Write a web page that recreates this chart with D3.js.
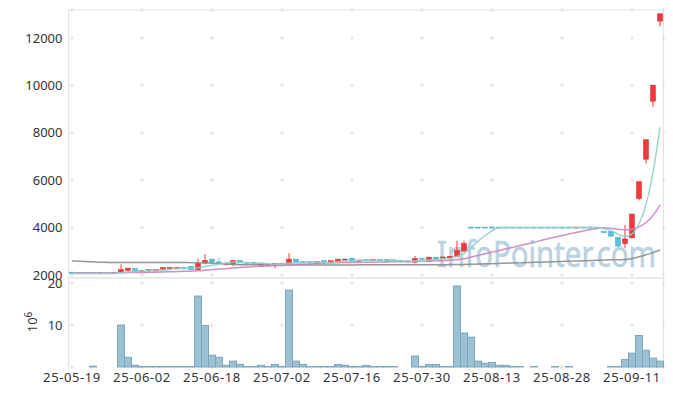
<!DOCTYPE html>
<html>
<head>
<meta charset="utf-8">
<script src="https://cdn.jsdelivr.net/npm/d3@7"></script>
<style>
  body { margin: 0; background: #fff; }
  svg { display: block; font-family: "Noto Sans", "Open Sans", sans-serif; }
</style>
</head>
<body>
<div class="chart"></div>
<script>
var dates = [
  "25-05-19","25-05-20","25-05-21","25-05-22","25-05-23","25-05-26","25-05-27","25-05-28","25-05-29","25-05-30",
  "25-06-02","25-06-04","25-06-05","25-06-09","25-06-10","25-06-11","25-06-12","25-06-13","25-06-16","25-06-17",
  "25-06-18","25-06-19","25-06-20","25-06-23","25-06-24","25-06-25","25-06-26","25-06-27","25-06-30","25-07-01",
  "25-07-02","25-07-03","25-07-04","25-07-07","25-07-08","25-07-09","25-07-10","25-07-11","25-07-14","25-07-15",
  "25-07-16","25-07-17","25-07-18","25-07-21","25-07-22","25-07-23","25-07-24","25-07-25","25-07-28","25-07-29",
  "25-07-30","25-07-31","25-08-01","25-08-04","25-08-05","25-08-06","25-08-07","25-08-08","25-08-11","25-08-12",
  "25-08-13","25-08-14","25-08-18","25-08-19","25-08-20","25-08-21","25-08-22","25-08-25","25-08-26","25-08-27",
  "25-08-28","25-08-29","25-09-01","25-09-02","25-09-03","25-09-04","25-09-05","25-09-08","25-09-09","25-09-10",
  "25-09-11","25-09-12","25-09-15","25-09-16","25-09-17"
];

var opens = [
  2100,2040,2045,2080,2060,2075,2040,2110,2180,2250,
  2140,2150,2150,2225,2260,2280,2290,2340,2200,2480,
  2650,2530,2460,2420,2590,2520,2510,2390,2420,2380,
  2410,2465,2650,2540,2540,2460,2580,2500,2540,2640,
  2690,2560,2640,2600,2630,2560,2620,2580,2530,2520,
  2690,2560,2730,2680,2690,2750,2990,4000,4000,4000,
  4000,4000,4000,4000,4000,4000,4000,4000,4000,4000,
  4000,4000,3995,4000,4000,4000,3810,3810,3560,3300,
  3550,5200,6865,9310,12690
];
var highs = [
  2110,2080,2080,2085,2075,2080,2095,2450,2290,2260,
  2180,2220,2220,2300,2310,2310,2320,2350,2680,2880,
  2660,2720,2490,2640,2600,2530,2520,2490,2450,2470,
  2470,2920,2660,2590,2550,2560,2590,2590,2660,2680,
  2700,2620,2650,2640,2640,2630,2630,2590,2580,2800,
  2700,2740,2740,2750,2780,3440,3440,4025,4000,4000,
  4000,4000,4000,4000,4000,4000,4000,4000,4000,4000,
  4000,4000,4000,4000,4000,4000,3830,3820,3600,4110,
  4570,5915,7690,9990,13000
];
var lows = [
  2030,2035,2040,2055,2055,2035,2035,2100,2170,2110,
  2130,2140,2145,2220,2250,2270,2270,2190,2190,2470,
  2510,2490,2400,2380,2510,2460,2430,2380,2410,2280,
  2360,2460,2500,2490,2470,2450,2530,2490,2530,2620,
  2550,2550,2610,2590,2580,2550,2550,2530,2520,2510,
  2640,2550,2650,2670,2680,2740,2980,3975,4000,4000,
  4000,4000,4000,4000,4000,4000,4000,4000,4000,4000,
  4000,4000,3995,4000,4000,4000,3770,3610,3190,3130,
  3540,5150,6710,9080,12480
];
var closes = [
  2040,2070,2075,2060,2070,2040,2090,2210,2270,2120,
  2170,2210,2210,2295,2290,2290,2280,2200,2460,2590,
  2520,2500,2480,2590,2520,2470,2440,2480,2440,2460,
  2460,2650,2510,2500,2480,2540,2540,2580,2650,2650,
  2560,2610,2620,2630,2590,2620,2560,2540,2570,2670,
  2650,2730,2660,2740,2770,3020,3310,4000,4000,4000,
  4000,4000,4000,4000,4000,4000,4000,4000,4000,4000,
  4000,4000,4000,4000,4000,4000,3790,3620,3200,3500,
  4550,5915,7690,9990,13000
];
// volume, millions of shares
var volumes = [
  0,0,0,0.2,0,0,0,10.0,2.3,0.4,
  0.1,0.1,0.1,0.1,0.1,0.1,0.1,0.1,16.9,9.9,
  2.8,2.3,0.4,1.4,0.6,0.1,0.1,0.4,0.1,0.6,
  0.1,18.3,1.4,0.6,0.1,0.1,0.1,0.1,0.6,0.4,
  0.1,0.1,0.4,0.1,0.1,0.1,0.1,0,0,2.6,
  0.1,0.6,0.6,0.1,0.1,19.3,8.1,7.1,1.4,0.9,
  1.1,0.4,0.4,0.1,0.1,0,0.1,0,0,0.1,
  0,0.1,0,0,0,0,0,0.1,0.1,1.8,
  3.3,7.5,4.0,2.1,1.4
];
// moving averages
var ma5 = [
  2070,2065,2065,2062,2063,2063,2067,2094,2136,2146,
  2172,2196,2196,2201,2235,2259,2273,2271,2304,2364,
  2410,2454,2510,2536,2522,2512,2500,2500,2470,2458,
  2456,2498,2504,2516,2520,2536,2514,2528,2558,2592,
  2596,2610,2618,2614,2602,2614,2604,2588,2576,2592,
  2598,2632,2656,2690,2710,2784,2900,3168,3420,3666,
  3862,4000,4000,4000,4000,4000,4000,4000,4000,4000,
  4000,4000,4000,4000,4000,4000,3958,3882,3722,3622,
  3732,4157,4971,6329,8227
];
var ma20 = [
  2097,2096,2094,2092,2091,2088,2087,2093,2101,2102,
  2106,2111,2117,2127,2136,2146,2155,2160,2178,2202,
  2226,2248,2268,2294,2317,2338,2356,2369,2378,2395,
  2409,2431,2446,2457,2466,2479,2492,2511,2520,2523,
  2525,2531,2538,2540,2543,2551,2557,2560,2566,2577,
  2586,2590,2598,2610,2624,2648,2687,2758,2825,2893,
  2965,3034,3103,3172,3242,3311,3383,3456,3528,3594,
  3662,3725,3792,3855,3917,3966,3990,3971,3931,3906,
  3933,4029,4213,4513,4962
];
var ma120 = [
  2590,2580,2570,2555,2540,2532,2527,2525,2525,2525,
  2525,2524,2524,2523,2523,2522,2522,2521,2518,2512,
  2500,2482,2462,2447,2437,2431,2428,2427,2426,2425,
  2425,2425,2425,2424,2424,2424,2424,2425,2425,2426,
  2426,2427,2427,2428,2428,2429,2429,2430,2430,2431,
  2432,2433,2434,2436,2438,2441,2446,2454,2462,2470,
  2479,2488,2497,2506,2515,2524,2533,2542,2551,2560,
  2570,2580,2590,2600,2610,2620,2630,2638,2646,2656,
  2700,2770,2850,2945,3055
];

var priceTicks = [2000, 4000, 6000, 8000, 10000, 12000];
var volumeTicks = [10, 20];
var dateTicks = ["25-05-19","25-06-02","25-06-18","25-07-02","25-07-16","25-07-30","25-08-13","25-08-28","25-09-11"];

var width = 673, height = 396;
var left = 68.5, right = 663.5;
var priceTop = 10, priceBottom = 278;
var volTop = 278, volBottom = 367;

var upColor = "#f0383d", upStroke = "#d8262c";
var downColor = "#5bbfd9", downStroke = "#45a9c6";
var gridColor = "#dedede";

var svg = d3.select("div.chart")
  .append("svg")
  .attr("width", width)
  .attr("height", height);

var xScale = d3.scaleBand()
  .domain(dates)
  .range([left, right])
  .padding(0);

var bw = xScale.bandwidth();
var cx = d => xScale(d) + bw / 2;

var yPrice = d3.scaleLinear()
  .domain([1873, 13180])
  .range([priceBottom, priceTop]);

var yVol = d3.scaleLinear()
  .domain([0, 21.2])
  .range([volBottom, volTop]);

// frame
svg.append("path")
  .attr("d", `M${left},${volBottom}V${priceTop}H${right}V${volBottom}`)
  .attr("fill", "none")
  .attr("stroke", "#e3e3e3")
  .attr("stroke-width", 1.2);
svg.append("line")
  .attr("x1", left).attr("x2", right)
  .attr("y1", priceBottom).attr("y2", priceBottom)
  .attr("stroke", "#e3e3e3")
  .attr("stroke-width", 1.5);

// little crosses where ticks meet
var crossX = dateTicks.map(cx).concat([right]);
var crossY = priceTicks.map(yPrice).concat(volumeTicks.map(yVol)).concat([priceTop, volBottom]);
var crosses = [];
crossX.forEach(x => crossY.forEach(y => crosses.push([x, y])));
svg.append("g")
  .attr("class", "crosses")
  .selectAll("path")
  .data(crosses)
  .enter()
  .append("path")
  .attr("d", d => `M${d[0] - 2},${d[1]}H${d[0] + 2}M${d[0]},${d[1] - 2}V${d[1] + 2}`)
  .attr("stroke", gridColor)
  .attr("stroke-width", 1);

// watermark
svg.append("text")
  .attr("x", 437)
  .attr("y", 267)
  .attr("font-size", 36)
  .attr("textLength", 219)
  .attr("lengthAdjust", "spacingAndGlyphs")
  .attr("fill", "#bcd2e0")
  .attr("stroke", "#bcd2e0")
  .attr("stroke-width", 0.6)
  .text("InfoPointer.com");

// axes
var yAxis = d3.axisLeft(yPrice).tickValues(priceTicks).tickFormat(d3.format("d")).tickSize(0).tickPadding(6);
svg.append("g")
  .attr("class", "y axis")
  .attr("transform", `translate(${left},0)`)
  .call(yAxis);

var volAxis = d3.axisLeft(yVol).tickValues(volumeTicks).tickFormat(d3.format("d")).tickSize(0).tickPadding(6);
svg.append("g")
  .attr("class", "v axis")
  .attr("transform", `translate(${left},0)`)
  .call(volAxis);

var xAxis = d3.axisBottom(xScale).tickValues(dateTicks).tickSize(0).tickPadding(6);
svg.append("g")
  .attr("class", "x axis")
  .attr("transform", `translate(0,${volBottom})`)
  .call(xAxis);

svg.selectAll(".axis .domain").remove();
svg.selectAll(".axis text")
  .attr("font-size", 13)
  .attr("fill", "#333")
  .attr("font-family", "Noto Sans, sans-serif");
svg.selectAll(".x.axis text").attr("letter-spacing", 0.6);

// 10^6 unit label
var unit = svg.append("text")
  .attr("transform", "translate(37,322) rotate(-90)")
  .attr("text-anchor", "middle")
  .attr("font-size", 13)
  .attr("fill", "#333");
unit.append("tspan").text("10");
unit.append("tspan").attr("dy", -5).attr("font-size", 10).text("6");

// volume bars
svg.append("g")
  .attr("class", "bars")
  .selectAll("rect")
  .data(dates)
  .enter()
  .append("rect")
  .attr("x", d => xScale(d))
  .attr("width", bw)
  .attr("y", (d, i) => yVol(volumes[i]))
  .attr("height", (d, i) => yVol(0) - yVol(volumes[i]))
  .attr("fill", "#9cc1d2")
  .attr("stroke", "#7aa6bc")
  .attr("stroke-width", 1)
  .attr("display", (d, i) => volumes[i] > 0 ? null : "none");

// candles
var candles = svg.append("g")
  .attr("class", "candles")
  .selectAll("g")
  .data(dates)
  .enter()
  .append("g");

var isUp = i => closes[i] > opens[i];

candles.append("line")
  .attr("x1", d => cx(d)).attr("x2", d => cx(d))
  .attr("y1", (d, i) => yPrice(highs[i]))
  .attr("y2", (d, i) => yPrice(lows[i]))
  .attr("stroke", (d, i) => isUp(i) ? upColor : downColor)
  .attr("stroke-width", 1);

candles.append("rect")
  .attr("x", d => cx(d) - 2.5)
  .attr("width", 5)
  .attr("y", (d, i) => Math.min(yPrice(opens[i]), yPrice(closes[i])) - 0.5)
  .attr("height", (d, i) => Math.max(Math.abs(yPrice(opens[i]) - yPrice(closes[i])), 1))
  .attr("fill", (d, i) => isUp(i) ? upColor : downColor)
  .attr("stroke", (d, i) => isUp(i) ? upStroke : downStroke)
  .attr("stroke-width", 0.5);

// moving averages
var maLine = series => d3.line()
  .x(d => cx(d))
  .y((d, i) => yPrice(series[i]))
  .curve(d3.curveMonotoneX)(dates);

[[ma120, "#8c8c8c"], [ma20, "#c985c0"], [ma5, "#8ed0c8"]].forEach(function (m) {
  svg.append("path")
    .attr("d", maLine(m[0]))
    .attr("fill", "none")
    .attr("stroke", m[1])
    .attr("stroke-width", 1.5)
    .attr("stroke-opacity", 0.9);
});
</script>
</body>
</html>
